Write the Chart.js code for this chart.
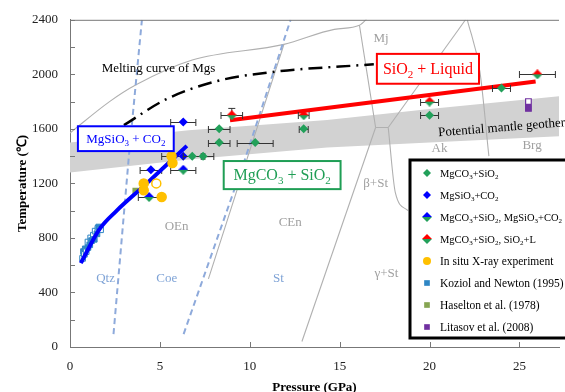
<!DOCTYPE html>
<html>
<head>
<meta charset="utf-8">
<script src="https://cdn.jsdelivr.net/npm/chart.js@4/dist/chart.umd.min.js"></script>
<style>
  html, body { margin: 0; padding: 0; background: #fff; }
</style>
</head>
<body>
<canvas id="phaseChart" width="565" height="392"></canvas>
<script>
// ---- experimental points (pressure GPa / temperature C / x error) ----
const mgco3SiO2P = [8.3, 8.3, 10.3, 13, 20, 24, 6.8, 7.4];
const mgco3SiO2T = [1500, 1600, 1500, 1600, 1700, 1900, 1400, 1400];
const mgco3SiO2Err = [0.6, 0.6, 1.0, 0.25, 0.5, 0.5, 0.5, 0.6];

const mgsio3P = [6.3, 4.5, 6.3];
const mgsio3T = [1650, 1300, 1400];
const mgsio3Err = [0.7, 0.6, 1.2];

const bothP = [6.3, 4.4];
const bothT = [1300, 1100];
const bothErr = [0.7, 0.6];

const liquidP = [9, 13, 20, 26];
const liquidT = [1700, 1700, 1800, 2000];
const liquidErr = [0.6, 0.3, 0.5, 1.0];
const liquidErrT = [50, 0, 0, 0];

const xrayP = [5.65, 5.7, 4.1, 4.1, 5.1, 4.8];
const xrayT = [1400, 1350, 1200, 1150, 1100, 1200];
const xrayOpen = [0, 0, 0, 0, 0, 1];

const koziolP = [0.7, 0.75, 0.8, 0.85, 0.9, 1.0, 1.0, 1.1, 1.15, 1.2, 1.3, 1.35, 1.4, 1.5, 1.55, 1.6, 1.7];
const koziolT = [650, 700, 680, 720, 700, 730, 770, 750, 800, 780, 820, 790, 850, 830, 870, 880, 860];
const koziolOpen = [1, 0, 1, 0, 1, 0, 1, 0, 1, 0, 1, 0, 1, 0, 1, 0, 1];

const haseltonP = [3.65];
const haseltonT = [1145];

const litasovP = [25.5, 25.5];
const litasovT = [1800, 1750];
const litasovOpen = [1, 0];

// ---- curves ----
const liqLineP = [8.9, 25.9];
const liqLineT = [1663, 1948];

const co2LineP = [0.6, 1.65, 2.6, 4.12, 6.5];
const co2LineT = [615, 866, 1000, 1182, 1475];

const mgsMeltP = [3.0, 5.3, 8.1, 11.2, 16.9];
const mgsMeltT = [1627, 1814, 1948, 2016, 2074];

const geoP = [0, 6.6, 14.3, 20, 27.2];
const geoUpperT = [1500, 1590, 1665, 1745, 1840];
const geoLowerT = [1280, 1376, 1463, 1500, 1545];

const qtzCoeP = [2.42, 3.3, 4.0];
const qtzCoeT = [95, 1437, 2400];
const coeStP = [6.32, 9.7, 12.27];
const coeStT = [95, 1364, 2400];

const phaseLines = [
    { p: [0, 2.2, 3.7, 6.8, 11.9, 14.7, 16.1, 16.6], t: [1570, 1800, 1925, 2105, 2220, 2330, 2360, 2420] },
    { p: [7.7, 11.9], t: [500, 2220] },
    { p: [16.1, 17.0], t: [2360, 1610] },
    { p: [12.9, 17.0], t: [40, 1610] },
    { p: [17.0, 17.7], t: [1610, 1610] },
    { p: [17.7, 22.0], t: [1610, 2400] },
    { p: [17.7, 18.1, 18.8], t: [1610, 1130, 1000] },
    { p: [22.1, 22.8, 23.3], t: [2400, 2020, 1400] }
];

const xTicks = [5, 10, 15, 20, 25];

// ---- text on the diagram ----
const phaseLabels = [
    { t: 'Mj', p: 17.3, T: 2261 }, { t: 'Ak', p: 20.55, T: 1452 }, { t: 'Brg', p: 25.7, T: 1474 },
    { t: 'β+St', p: 17.0, T: 1196 }, { t: 'γ+St', p: 17.6, T: 540 },
    { t: 'OEn', p: 5.93, T: 883 }, { t: 'CEn', p: 12.25, T: 912 }
];
const silicaLabels = [
    { t: 'Qtz', p: 1.98, T: 503 }, { t: 'Coe', p: 5.38, T: 503 }, { t: 'St', p: 11.6, T: 503 }
];
const boxLabels = [
    { t: 'MgSiO3 + CO2', p0: 0.44, p1: 5.77, T0: 1437, T1: 1619, color: '#0000ff', size: 13 },
    { t: 'SiO2 + Liquid', p0: 17.07, p1: 22.75, T0: 1931, T1: 2150, color: '#ff0000', size: 16 },
    { t: 'MgCO3 + SiO2', p0: 8.55, p1: 15.05, T0: 1158, T1: 1364, color: '#1f9e55', size: 16 }
];

const serif = '"Liberation Serif", "Times New Roman", serif';
const GREEN = '#22a05a', BLUE = '#0000ff', RED = '#ff0000';

function pts(xs, ys) {
    return xs.map((x, i) => ({ x: x, y: ys[i] }));
}

// half/half diamond marker
function splitDiamond(top, bottom, r) {
    const c = document.createElement('canvas');
    c.width = c.height = 2 * r;
    const g = c.getContext('2d');
    g.fillStyle = top;
    g.beginPath(); g.moveTo(r, 0); g.lineTo(2 * r, r); g.lineTo(0, r); g.closePath(); g.fill();
    g.fillStyle = bottom;
    g.beginPath(); g.moveTo(0, r); g.lineTo(2 * r, r); g.lineTo(r, 2 * r); g.closePath(); g.fill();
    return c;
}

// text where a digit after "O" is a subscript
function richText(ctx, text, x, y, size, align) {
    const small = Math.round(size * 0.68);
    const parts = [];
    for (let i = 0; i < text.length; i++) {
        const sub = /\d/.test(text[i]) && text[i - 1] === 'O';
        if (parts.length && parts[parts.length - 1].sub === sub) parts[parts.length - 1].s += text[i];
        else parts.push({ s: text[i], sub: sub });
    }
    let w = 0;
    parts.forEach(p => { ctx.font = (p.sub ? small : size) + 'px ' + serif; w += ctx.measureText(p.s).width; });
    let cx = align === 'center' ? x - w / 2 : x;
    ctx.textAlign = 'left';
    ctx.textBaseline = 'alphabetic';
    parts.forEach(p => {
        ctx.font = (p.sub ? small : size) + 'px ' + serif;
        ctx.fillText(p.s, cx, p.sub ? y + size * 0.22 : y);
        cx += ctx.measureText(p.s).width;
    });
}

const errorBars = {
    id: 'errorBars',
    beforeDatasetDraw(chart, args) {
        const ds = chart.data.datasets[args.index];
        if (!ds.xErr) return;
        const { ctx, scales: { x, y } } = chart;
        ctx.save();
        ctx.strokeStyle = '#333';
        ctx.lineWidth = 1;
        ds.data.forEach((pt, i) => {
            const px = x.getPixelForValue(pt.x);
            const py = Math.round(y.getPixelForValue(pt.y)) + 0.5;
            const e = ds.xErr[i];
            if (e) {
                const a = x.getPixelForValue(pt.x - e), b = x.getPixelForValue(pt.x + e);
                ctx.beginPath();
                ctx.moveTo(a, py); ctx.lineTo(b, py);
                ctx.moveTo(a, py - 3.5); ctx.lineTo(a, py + 3.5);
                ctx.moveTo(b, py - 3.5); ctx.lineTo(b, py + 3.5);
                ctx.stroke();
            }
            const et = ds.yErr && ds.yErr[i];
            if (et) {
                const a = y.getPixelForValue(pt.y + et);
                ctx.beginPath();
                ctx.moveTo(px, py); ctx.lineTo(px, a);
                ctx.moveTo(px - 3.5, a); ctx.lineTo(px + 3.5, a);
                ctx.stroke();
            }
        });
        ctx.restore();
    }
};

const notes = {
    id: 'notes',
    afterDatasetsDraw(chart) {
        const { ctx, scales: { x, y } } = chart;
        ctx.save();
        ctx.textAlign = 'center';
        ctx.textBaseline = 'middle';
        ctx.font = '13px ' + serif;
        ctx.fillStyle = '#a0a0a0';
        phaseLabels.forEach(l => ctx.fillText(l.t, x.getPixelForValue(l.p), y.getPixelForValue(l.T)));
        ctx.fillStyle = '#7fa3d6';
        silicaLabels.forEach(l => ctx.fillText(l.t, x.getPixelForValue(l.p), y.getPixelForValue(l.T)));

        ctx.fillStyle = '#000';
        richText(ctx, 'Melting curve of Mgs', x.getPixelForValue(1.76), y.getPixelForValue(2020), 13, 'left');

        // geotherm label, tilted with the band
        ctx.save();
        ctx.translate(x.getPixelForValue(20.5), y.getPixelForValue(1545));
        ctx.rotate(-0.08);
        richText(ctx, 'Potential mantle geotherm', 0, 0, 13, 'left');
        ctx.restore();

        boxLabels.forEach(b => {
            const l = x.getPixelForValue(b.p0), r = x.getPixelForValue(b.p1);
            const t = y.getPixelForValue(b.T1), bt = y.getPixelForValue(b.T0);
            ctx.fillStyle = '#fff';
            ctx.fillRect(l, t, r - l, bt - t);
            ctx.strokeStyle = b.color;
            ctx.lineWidth = 2;
            ctx.strokeRect(l, t, r - l, bt - t);
            ctx.fillStyle = b.color;
            richText(ctx, b.t, (l + r) / 2, (t + bt) / 2 + b.size * 0.33, b.size, 'center');
        });
        ctx.restore();
    },
    afterDraw(chart) {
        const { ctx, chartArea: a, scales: { x, y } } = chart;
        ctx.save();
        ctx.strokeStyle = '#777';
        ctx.lineWidth = 1;
        ctx.beginPath();
        ctx.moveTo(a.left, a.top + 0.5); ctx.lineTo(a.right, a.top + 0.5);
        y.ticks.forEach(t => {
            const py = Math.round(y.getPixelForValue(t.value)) + 0.5;
            ctx.moveTo(a.left, py); ctx.lineTo(a.left + 5, py);
        });
        xTicks.forEach(v => {
            const px = Math.round(x.getPixelForValue(v)) + 0.5;
            ctx.moveTo(px, a.bottom); ctx.lineTo(px, a.bottom - 5);
        });
        ctx.stroke();

        // boxed legend, running off the right edge like the original
        const items = chart.data.datasets.filter(d => d.legendRow !== undefined)
            .sort((p, q) => p.legendRow - q.legendRow);
        ctx.fillStyle = '#fff';
        ctx.fillRect(410, 160, 200, 178);
        ctx.strokeStyle = '#000';
        ctx.lineWidth = 3;
        ctx.strokeRect(410, 160, 200, 178);
        items.forEach((d, i) => {
            const yy = 173 + i * 22;
            ctx.fillStyle = d.legendColor;
            ctx.strokeStyle = d.legendColor;
            Chart.helpers.drawPoint(ctx, { pointStyle: d.pointStyle, radius: d.legendRadius, rotation: 0, borderWidth: 0 }, 427, yy);
            ctx.fillStyle = '#000';
            richText(ctx, d.label, 440, yy + 4, d.legendSize, 'left');
        });
        ctx.restore();
    }
};

function curve(xs, ys, color, width, extra) {
    return Object.assign({
        type: 'line', data: pts(xs, ys), borderColor: color, borderWidth: width,
        pointRadius: 0, fill: false, showLine: true
    }, extra || {});
}

const datasets = [
    curve(geoP, geoLowerT, 'rgba(0,0,0,0)', 0, { order: 30 }),
    curve(geoP, geoUpperT, 'rgba(0,0,0,0)', 0, { order: 30, fill: '-1', backgroundColor: '#d2d2d2' }),
    curve(qtzCoeP, qtzCoeT, '#8eaadb', 2, { order: 20, borderDash: [6, 4] }),
    curve(coeStP, coeStT, '#8eaadb', 2, { order: 20, borderDash: [6, 4] }),
    curve(mgsMeltP, mgsMeltT, '#000', 2.5, { order: 19, borderDash: [14, 6, 2, 6], cubicInterpolationMode: 'monotone' }),
    curve(liqLineP, liqLineT, RED, 4, { order: 18 }),
    {
        type: 'scatter', label: 'MgCO3+SiO2', data: pts(mgco3SiO2P, mgco3SiO2T), xErr: mgco3SiO2Err,
        pointStyle: 'rectRot', pointRadius: 4.5, backgroundColor: GREEN, borderWidth: 0,
        legendRow: 0, legendColor: GREEN, legendRadius: 4, legendSize: 10.5, order: 5
    },
    {
        type: 'scatter', label: 'MgSiO3+CO2', data: pts(mgsio3P, mgsio3T), xErr: mgsio3Err,
        pointStyle: 'rectRot', pointRadius: 4.5, backgroundColor: BLUE, borderWidth: 0,
        legendRow: 1, legendColor: BLUE, legendRadius: 4, legendSize: 10.5, order: 5
    },
    {
        type: 'scatter', label: 'MgCO3+SiO2, MgSiO3+CO2', data: pts(bothP, bothT), xErr: bothErr,
        pointStyle: splitDiamond(BLUE, GREEN, 5), borderWidth: 0,
        legendRow: 2, legendColor: BLUE, legendRadius: 4, legendSize: 10.5, order: 5
    },
    {
        type: 'scatter', label: 'MgCO3+SiO2, SiO2+L', data: pts(liquidP, liquidT), xErr: liquidErr, yErr: liquidErrT,
        pointStyle: splitDiamond(RED, GREEN, 5), borderWidth: 0,
        legendRow: 3, legendColor: RED, legendRadius: 4, legendSize: 10.5, order: 5
    },
    {
        type: 'scatter', label: 'In situ X-ray experiment', data: pts(xrayP, xrayT),
        pointStyle: 'circle', pointRadius: 4.5,
        backgroundColor: xrayOpen.map(o => o ? '#fff' : '#ffc000'), borderColor: '#ffc000', borderWidth: 1.5,
        legendRow: 4, legendColor: '#ffc000', legendRadius: 4, legendSize: 11.5, order: -2
    },
    {
        type: 'scatter', label: 'Koziol and Newton (1995)', data: pts(koziolP, koziolT),
        pointStyle: 'rect', pointRadius: 4,
        backgroundColor: koziolOpen.map(o => o ? '#fff' : '#2f86c4'), borderColor: '#2f86c4', borderWidth: 1,
        legendRow: 5, legendColor: '#2f86c4', legendRadius: 4, legendSize: 11.5, order: 6
    },
    {
        type: 'scatter', label: 'Haselton et al. (1978)', data: pts(haseltonP, haseltonT),
        pointStyle: 'rect', pointRadius: 4.5, backgroundColor: '#86a552', borderWidth: 0,
        legendRow: 6, legendColor: '#86a552', legendRadius: 4, legendSize: 11.5, order: 7
    },
    {
        type: 'scatter', label: 'Litasov et al. (2008)', data: pts(litasovP, litasovT),
        pointStyle: 'rect', pointRadius: 4,
        backgroundColor: litasovOpen.map(o => o ? '#fff' : '#7030a0'), borderColor: '#7030a0', borderWidth: 1.2,
        legendRow: 7, legendColor: '#7030a0', legendRadius: 4, legendSize: 11.5, order: 5
    },
    curve(co2LineP, co2LineT, BLUE, 4, { order: -1, cubicInterpolationMode: 'monotone' })
];
phaseLines.forEach(l => datasets.push(curve(l.p, l.t, '#b0b0b0', 1.1, { order: 25, cubicInterpolationMode: 'monotone' })));

new Chart(document.getElementById('phaseChart'), {
    type: 'scatter',
    data: { datasets: datasets },
    plugins: [errorBars, notes],
    options: {
        responsive: false,
        animation: false,
        events: [],
        layout: { padding: { top: 18, right: 0, left: 0, bottom: 0 } },
        plugins: { legend: { display: false }, tooltip: { enabled: false } },
        scales: {
            x: {
                type: 'linear', min: 0, max: 27.2,
                afterFit: s => { s.height = 45; },
                grid: { display: false, drawTicks: false },
                border: { display: true, color: '#777' },
                ticks: { stepSize: 5, includeBounds: false, padding: 12, maxRotation: 0, color: '#222', font: { family: serif, size: 13 } },
                title: { display: true, text: 'Pressure (GPa)', color: '#000', font: { family: serif, size: 13, weight: 'bold', lineHeight: 1 }, padding: { top: 0, bottom: -2 } }
            },
            y: {
                type: 'linear', min: 0, max: 2400,
                afterFit: s => { s.width = 70; },
                grid: { display: false, drawTicks: false },
                border: { display: true, color: '#777' },
                ticks: { stepSize: 200, padding: 12, color: '#222', font: { family: serif, size: 13 },
                    callback: v => (v % 400 === 0 ? v : '') },
                title: { display: true, text: 'Temperature (℃)', color: '#000', font: { family: serif, size: 13, weight: 'bold', lineHeight: 1 }, padding: { top: 16, bottom: 0 } }
            }
        }
    }
});
</script>
</body>
</html>
